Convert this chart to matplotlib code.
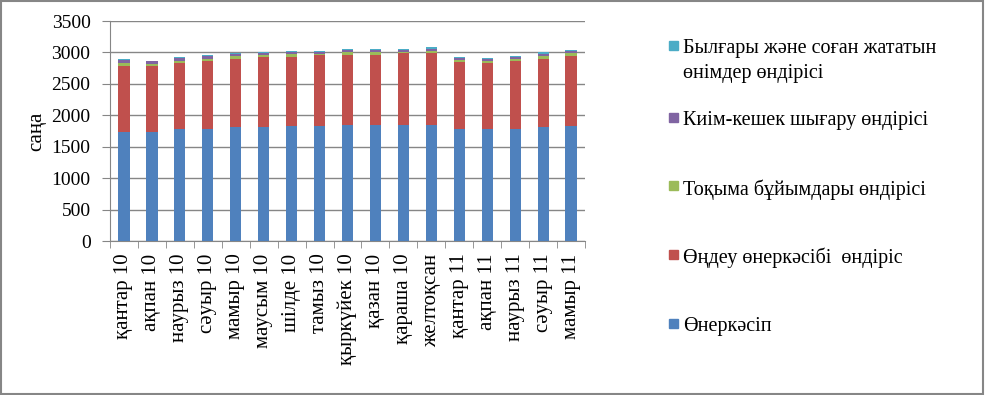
import numpy as np
import matplotlib.pyplot as plt
from matplotlib.patches import Rectangle

plt.rcParams['font.family'] = ['Liberation Serif', 'DejaVu Serif']

months = ['қантар 10', 'ақпан 10', 'наурыз 10', 'сәуыр 10', 'мамыр 10', 'маусым 10',
          'шілде 10', 'тамыз 10', 'қыркүйек 10', 'қазан 10', 'қараша 10', 'желтоқсан',
          'қантар 11', 'ақпан 11', 'наурыз 11', 'сәуыр 11', 'мамыр 11']

onerkasip = [1737, 1737, 1774, 1784, 1806, 1816, 1837, 1837, 1848, 1848, 1848, 1848,
             1774, 1774, 1784, 1806, 1837]
ondeu = [1051, 1051, 1051, 1073, 1083, 1105, 1094, 1116, 1115, 1115, 1137, 1137,
         1078, 1062, 1084, 1094, 1111]
tokyma = [48, 32, 43, 43, 48, 32, 48, 26, 37, 48, 26, 42, 32, 32, 32, 48, 47]
kiim = [37, 37, 37, 37, 32, 37, 32, 32, 32, 32, 32, 32, 32, 32, 32, 31, 32]
bylgary = [16, 11, 16, 16, 16, 16, 16, 16, 16, 16, 16, 21, 16, 16, 16, 21, 16]

names = ['Өнеркәсіп', 'Өңдеу өнеркәсібі  өндіріс', 'Тоқыма бұйымдары өндірісі',
         'Киім-кешек шығару өндірісі', 'Былғары және соған жататын\nөнімдер өндірісі']
colors = ['#4F81BD', '#C0504D', '#9BBB59', '#8064A2', '#4BACC6']
series = [onerkasip, ondeu, tokyma, kiim, bylgary]

W, H = 985, 395
fig = plt.figure(figsize=(W / 100, H / 100), dpi=100)
ax = fig.add_axes([110 / W, 1 - 241 / H, 475 / W, 220 / H])

x = np.arange(len(months))
bottom = np.zeros(len(months))
for vals, name, col in zip(series, names, colors):
    ax.bar(x, vals, 0.4, bottom=bottom, color=col, label=name, zorder=3)
    bottom += np.array(vals)

ax.set_xlim(-0.5, len(months) - 0.5)
ax.set_ylim(0, 3500)
ax.set_yticks(np.arange(0, 3501, 500))
ax.yaxis.grid(True, color='#868686', lw=1, zorder=0)
ax.set_xticks(x)
ax.set_xticklabels(months, rotation=90, fontsize=15)
ax.tick_params(axis='x', length=0, pad=9)
ax.set_xticks(np.arange(-0.5, len(months)), minor=True)
ax.tick_params(axis='x', which='minor', length=5, color='#868686', direction='out')
ax.tick_params(axis='y', labelsize=14, length=6, color='#868686', pad=8)
for s in ['top', 'right']:
    ax.spines[s].set_visible(False)
for s in ['left', 'bottom']:
    ax.spines[s].set_color('#868686')
ax.set_ylabel('саңа', fontsize=15, labelpad=4)

# legend drawn by hand, like Excel spacing: top entry first
leg_y = [47, 119, 187, 256, 325]
for name, col, yy in zip(names[::-1], colors[::-1], leg_y):
    fig.patches.append(Rectangle((669 / W, 1 - (yy + 3) / H), 9 / W, 9 / H,
                                 transform=fig.transFigure, color=col))
    fig.text(683 / W, 1 - (yy - 8) / H, name, fontsize=14.5, va='top', ha='left',
             linespacing=1.4)

fig.patches.append(Rectangle((0.001, 0.002), 0.997, 0.995, transform=fig.transFigure,
                             fill=False, edgecolor='#868686', lw=1.5))

fig.savefig('out.png', dpi=100)
